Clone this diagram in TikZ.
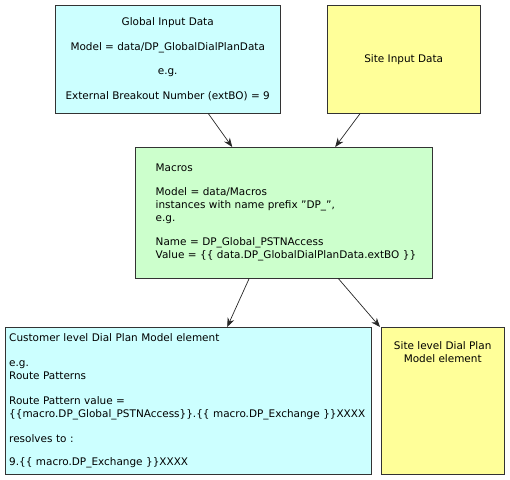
\documentclass[tikz,border=0pt]{standalone}
\usepackage{fontspec}
\setmainfont{DejaVu Sans}
\usetikzlibrary{arrows.meta}
\definecolor{boxcyan}{HTML}{CCFFFF}
\definecolor{boxyellow}{HTML}{FFFF99}
\definecolor{boxgreen}{HTML}{CCFFCC}
\tikzset{
  databox/.style={draw=black!80, anchor=north west, inner sep=0pt,
    font=\fontsize{10.5}{13}\selectfont},
  link/.style={-{Stealth[length=9bp,width=7bp]}, draw=black!85, line width=0.7bp}
}
\begin{document}
\begin{tikzpicture}[>=Stealth, x=1bp, y=-1bp]
	\useasboundingbox (0,0) rectangle (510,480);
	% input data
	\node[databox, fill=boxcyan, minimum width=225bp, minimum height=108bp,
		align=center] (globalin) at (55,5)
		{Global Input Data\\[12bp]
		Model = data/DP\_GlobalDialPlanData\\[12bp]
		e.g.\\[12bp]
		External Breakout Number (extBO) = 9};
	\node[databox, fill=boxyellow, minimum width=153bp, minimum height=108bp]
		(sitein) at (327,5) {Site Input Data};
	% macros
	\node[databox, fill=boxgreen, minimum width=297bp, minimum height=131bp,
		align=left, text width=290bp] (macros) at (135,147)
		{\hspace*{17bp}Macros\\[11bp]
		\hspace*{17bp}Model = data/Macros\\
		\hspace*{17bp}instances with name prefix \symbol{34}DP\_\symbol{34},\\
		\hspace*{17bp}e.g.\\[11bp]
		\hspace*{17bp}Name = DP\_Global\_PSTNAccess\\
		\hspace*{17bp}Value = \{\{ data.DP\_GlobalDialPlanData.extBO \}\}};
	% model elements
	\node[databox, fill=boxcyan, minimum width=366bp, minimum height=147bp,
		align=left, text width=364bp] (custmodel) at (5,327)
		{\hspace*{3bp}Customer level Dial Plan Model element\\[12bp]
		\hspace*{3bp}e.g.\\
		\hspace*{3bp}Route Patterns\\[12bp]
		\hspace*{3bp}Route Pattern value =\\
		\hspace*{3bp}\{\{macro.DP\_Global\_PSTNAccess\}\}.\{\{ macro.DP\_Exchange \}\}XXXX\\[12bp]
		\hspace*{3bp}resolves to :\\[10bp]
		\hspace*{3bp}9.\{\{ macro.DP\_Exchange \}\}XXXX};
	\node[databox, fill=boxyellow, minimum width=123bp, minimum height=147bp]
		(sitemodel) at (381,327) {};
	\node[anchor=north, align=center, inner sep=0pt,
		font=\fontsize{10.5}{13}\selectfont] (sitemodeltext)
		at ([yshift=-14bp]sitemodel.north)
		{Site level Dial Plan\\Model element};
	% links
	\draw[link] ([xshift=40.5bp]globalin.south) -- ([xshift=-51.5bp]macros.north);
	\draw[link] ([xshift=-43.5bp]sitein.south) -- ([xshift=51.5bp]macros.north);
	\draw[link] ([xshift=-34.5bp]macros.south) -- ([xshift=39bp]custmodel.north);
	\draw[link] ([xshift=54.5bp]macros.south) -- ([xshift=-1bp]sitemodel.north west);
\end{tikzpicture}
\end{document}
